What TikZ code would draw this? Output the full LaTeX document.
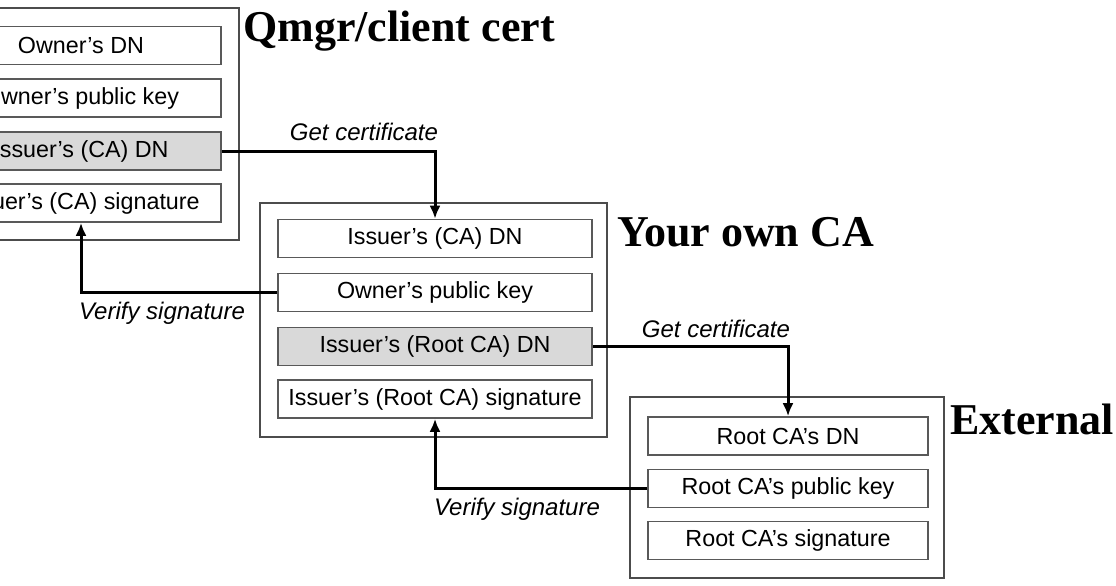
\documentclass[tikz,border=0pt]{standalone}
\usepackage{fontspec}
\setmainfont{Liberation Serif}
\newfontfamily\boxsans{Liberation Sans}
\usetikzlibrary{arrows.meta}
\begin{document}
\begin{tikzpicture}[x=1pt,y=-1pt,
  outerbox/.style={draw=black!70, line width=1.6pt},
  cell/.style={draw=black!65, line width=1.6pt, rectangle, minimum width=280pt, minimum height=38pt, inner sep=0pt,
    font=\boxsans\fontsize{23.3}{26}\selectfont},
  midcell/.style={cell, minimum width=314pt},
  shaded/.style={fill=black!15},
  arr/.style={line width=3pt, -{Latex[length=13pt,width=11pt]}},
  lbl/.style={font=\boxsans\itshape\fontsize{24}{26}\selectfont},
  ttl/.style={font=\bfseries\fontsize{44}{47}\selectfont, anchor=west, inner sep=0pt}]
\useasboundingbox (0,0) rectangle (1116,586);
\clip (0,0) rectangle (1116,586);
\fill[white] (0,0) rectangle (1116,586);
% left certificate
\draw[outerbox] (-80,8) rectangle (239,240);
\node[cell] (l1) at (81,45.5) {Owner’s DN};
\node[cell] (l2) at (81,98) {Owner’s public key};
\node[cell,shaded] (l3) at (81,151) {Issuer’s (CA) DN};
\node[cell] (l4) at (81,203) {Issuer’s (CA) signature};
\node[ttl] (t1) at (243,31) {Qmgr/client cert};
% middle certificate
\draw[outerbox] (260,203) rectangle (607,437);
\node[midcell] (m1) at (435,238.5) {Issuer’s (CA) DN};
\node[midcell] (m2) at (435,292.5) {Owner’s public key};
\node[midcell,shaded] (m3) at (435,346.5) {Issuer’s (Root CA) DN};
\node[midcell] (m4) at (435,399) {Issuer’s (Root CA) signature};
\node[ttl] (t2) at (617,232) {Your own CA};
% right certificate
\draw[outerbox] (630,397) rectangle (944,578);
\node[cell] (r1) at (788,436) {Root CA’s DN};
\node[cell] (r2) at (788,488.5) {Root CA’s public key};
\node[cell] (r3) at (788,540.5) {Root CA’s signature};
\node[ttl] (t3) at (950,419) {External};
% connectors
\draw[arr] (l3.east) -| (m1.north);
\draw[arr] (m2.west) -| (l4.south);
\draw[arr] (m3.east) -| (r1.north);
\draw[arr] (r2.west) -| (m4.south);
% labels
\node[lbl] (g1) at (364,132) {Get certificate};
\node[lbl] (v1) at (162,313) {Verify signature};
\node[lbl] (g2) at (716,329) {Get certificate};
\node[lbl] (v2) at (517,509) {Verify signature};
\end{tikzpicture}
\end{document}
